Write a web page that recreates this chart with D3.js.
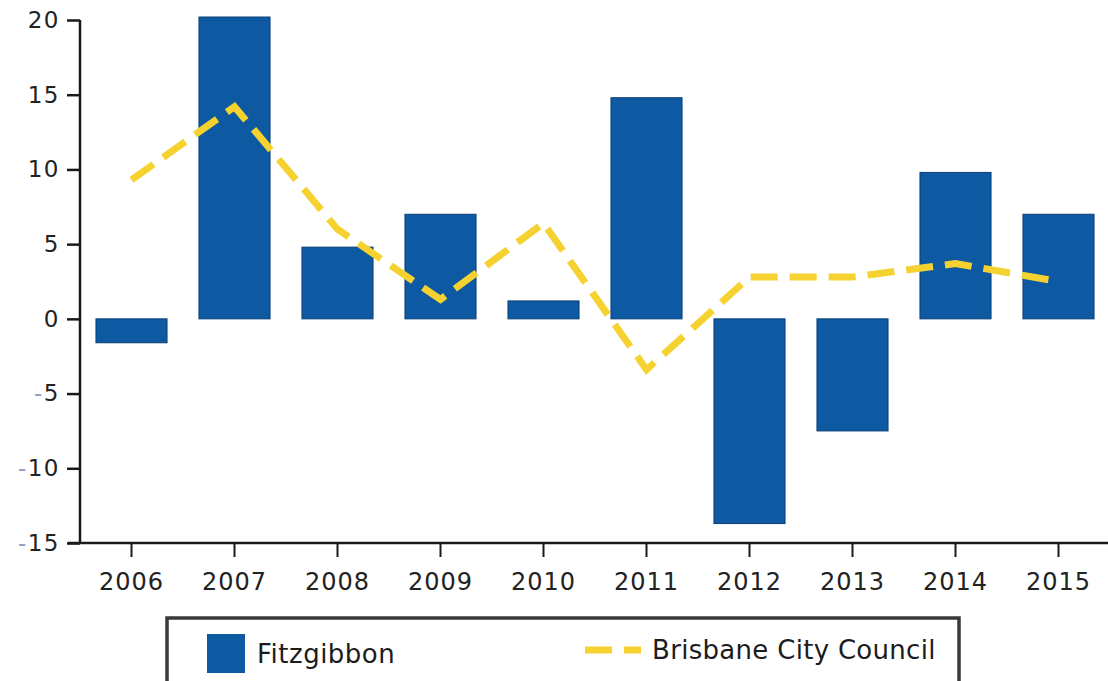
<!DOCTYPE html>
<html>
<head>
<meta charset="utf-8">
<script src="https://cdn.jsdelivr.net/npm/d3@7"></script>
<style>
  html, body { margin: 0; padding: 0; background: #fff; }
  svg { display: block; }
  .tick text { font-family: "DejaVu Sans", Verdana, sans-serif; fill: #222; }
  .legend-label { font-family: "DejaVu Sans", Verdana, sans-serif; fill: #1c1c1c; }
</style>
</head>
<body>
<div id="chart"></div>
<script>
const years = ['2006', '2007', '2008', '2009', '2010', '2011', '2012', '2013', '2014', '2015'];
const fitzgibbon = [-1.6, 20.2, 4.8, 7.0, 1.2, 14.8, -13.7, -7.5, 9.8, 7.0];
const brisbane = [9.3, 14.2, 6.0, 1.3, 6.4, -3.4, 2.8, 2.8, 3.7, 2.5];
const yTicks = [20, 15, 10, 5, 0, -5, -10, -15];

const barColor = '#0d5aa2';
const lineColor = '#f6d231';

function drawChart(selector) {
  const width = 1108;
  const height = 681;

  const svg = d3.select(selector).append('svg')
    .attr('width', width)
    .attr('height', height);

  const x = d3.scaleBand()
    .domain(years)
    .range([80, 1110])
    .paddingInner(0.31)
    .paddingOuter(0.155);

  const y = d3.scaleLinear()
    .domain([-15, 20])
    .range([543, 20]);

  // bars
  svg.append('g')
    .selectAll('rect')
    .data(years.map((yr, i) => ({ yr, v: fitzgibbon[i] })))
    .join('rect')
    .attr('x', d => x(d.yr))
    .attr('width', x.bandwidth())
    .attr('y', d => y(Math.max(0, d.v)))
    .attr('height', d => Math.abs(y(d.v) - y(0)))
    .attr('fill', barColor)
    .attr('stroke', '#0a3f78')
    .attr('stroke-width', 1);

  // dashed line
  const line = d3.line()
    .x((d, i) => x(years[i]) + x.bandwidth() / 2)
    .y(d => y(d));

  svg.append('path')
    .datum(brisbane)
    .attr('d', line)
    .attr('fill', 'none')
    .attr('stroke', lineColor)
    .attr('stroke-width', 7)
    .attr('stroke-dasharray', '27,12');

  // y axis
  const yAxis = svg.append('g')
    .attr('transform', 'translate(80,0)')
    .call(d3.axisLeft(y).tickValues(yTicks).tickSize(13).tickPadding(7)
      .tickFormat(d => d));
  yAxis.select('.domain').remove();
  yAxis.append('line')
    .attr('x1', 0).attr('x2', 0)
    .attr('y1', y(20)).attr('y2', y(-15))
    .attr('stroke', '#1a1a1a').attr('stroke-width', 2.5);
  yAxis.selectAll('.tick line').attr('stroke', '#1a1a1a').attr('stroke-width', 2.5);
  yAxis.selectAll('.tick text')
    .style('font-size', '23px')
    .style('letter-spacing', '1.5px')
    .text(null)
    .each(function(d) {
      const t = d3.select(this);
      if (d < 0) {
        t.append('tspan').attr('fill', '#8c9cc0').text('-');
        t.append('tspan').text(Math.abs(d));
      } else {
        t.append('tspan').text(d);
      }
    });

  // x axis
  const xAxis = svg.append('g')
    .attr('transform', `translate(0,${y(-15)})`)
    .call(d3.axisBottom(x).tickSize(14).tickPadding(16));
  xAxis.select('.domain').remove();
  xAxis.append('line')
    .attr('x1', 68).attr('x2', width)
    .attr('y1', 0).attr('y2', 0)
    .attr('stroke', '#1a1a1a').attr('stroke-width', 2.5);
  xAxis.selectAll('.tick line').attr('stroke', '#1a1a1a').attr('stroke-width', 2);
  xAxis.selectAll('.tick text')
    .style('font-size', '24px')
    .style('letter-spacing', '1px');

  // legend
  const legend = svg.append('g').attr('class', 'legend');
  legend.append('rect')
    .attr('x', 167).attr('y', 618)
    .attr('width', 792).attr('height', 70)
    .attr('fill', '#fff')
    .attr('stroke', '#3a3a3a')
    .attr('stroke-width', 3.5);
  legend.append('rect')
    .attr('x', 207).attr('y', 634)
    .attr('width', 38).attr('height', 39)
    .attr('fill', barColor);
  legend.append('text')
    .attr('class', 'legend-label')
    .attr('x', 257).attr('y', 663)
    .style('font-size', '26px')
    .style('letter-spacing', '0.5px')
    .text('Fitzgibbon');
  legend.append('line')
    .attr('x1', 585).attr('x2', 641)
    .attr('y1', 650).attr('y2', 650)
    .attr('stroke', lineColor)
    .attr('stroke-width', 7)
    .attr('stroke-dasharray', '27,12');
  legend.append('text')
    .attr('class', 'legend-label')
    .attr('x', 652).attr('y', 659)
    .style('font-size', '26px')
    .style('letter-spacing', '0.3px')
    .text('Brisbane City Council');
}

drawChart('#chart');
</script>
</body>
</html>
